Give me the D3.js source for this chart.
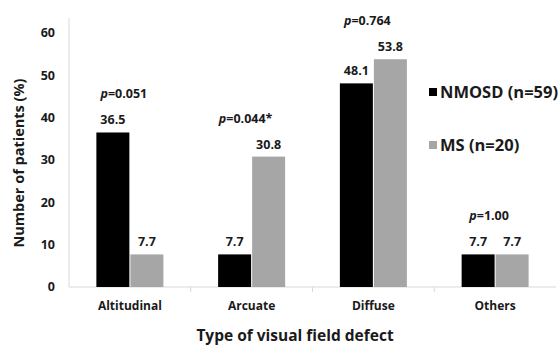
<!DOCTYPE html>
<html>
<head>
<meta charset="utf-8">
<style>
  body { margin: 0; background: #fff; }
  text { font-family: "Open Sans", sans-serif; font-weight: bold; fill: #1a1a1a; }
</style>
</head>
<body>
<div id="chart"></div>
<script src="https://d3js.org/d3.v7.min.js"></script>
<script>
var categories = ["Altitudinal", "Arcuate", "Diffuse", "Others"];
var seriesNames = ["NMOSD (n=59)", "MS (n=20)"];
var nmosd = [36.5, 7.7, 48.1, 7.7];
var ms = [7.7, 30.8, 53.8, 7.7];
var pValues = ["0.051", "0.044*", "0.764", "1.00"];
var yTicks = [0, 10, 20, 30, 40, 50, 60];
var colors = ["#000000", "#a6a6a6"];

var W = 560, H = 346;
var margin = { top: 18, right: 4, bottom: 59, left: 69 };

var svg = d3.select("#chart").append("svg")
  .attr("width", W)
  .attr("height", H);

var x = d3.scaleBand()
  .domain(categories)
  .range([margin.left, W - margin.right]);

var inner = d3.scaleBand()
  .domain([0, 1])
  .range([0, 67])
  .paddingInner(0.03);

var y = d3.scaleLinear()
  .domain([0, 60])
  .range([287, 33]);

// axis lines
svg.append("line")
  .attr("x1", margin.left).attr("x2", margin.left)
  .attr("y1", margin.top).attr("y2", y(0))
  .attr("stroke", "#d9d9d9");
svg.append("line")
  .attr("x1", margin.left).attr("x2", W - margin.right)
  .attr("y1", y(0)).attr("y2", y(0))
  .attr("stroke", "#d9d9d9");

// category separators
svg.selectAll(".sep")
  .data(categories.slice(1))
  .enter().append("line")
  .attr("x1", function(d) { return x(d); })
  .attr("x2", function(d) { return x(d); })
  .attr("y1", y(0)).attr("y2", y(0) + 5)
  .attr("stroke", "#d9d9d9");

// y tick labels
svg.selectAll(".ytick")
  .data(yTicks)
  .enter().append("text")
  .attr("x", 55)
  .attr("y", function(d) { return y(d); })
  .attr("dy", "0.35em")
  .attr("text-anchor", "end")
  .style("font-size", "12.5px")
  .text(function(d) { return d; });

// bars
var series = [nmosd, ms];
var rows = [];
categories.forEach(function(c, i) {
  series.forEach(function(s, k) {
    rows.push({ cat: c, k: k, v: s[i] });
  });
});

var off = (x.bandwidth() - 67) / 2;

svg.selectAll(".bar")
  .data(rows)
  .enter().append("rect")
  .attr("x", function(d) { return x(d.cat) + off + inner(d.k); })
  .attr("y", function(d) { return y(d.v); })
  .attr("width", inner.bandwidth())
  .attr("height", function(d) { return y(0) - y(d.v); })
  .attr("fill", function(d) { return colors[d.k]; });

// value labels
svg.selectAll(".val")
  .data(rows)
  .enter().append("text")
  .attr("x", function(d) { return x(d.cat) + off + inner(d.k) + inner.bandwidth() / 2; })
  .attr("y", function(d) { return y(d.v) - 8; })
  .attr("text-anchor", "middle")
  .style("font-size", "12.5px")
  .text(function(d) { return d.v.toFixed(1); });

// p-values
var pt = svg.selectAll(".p")
  .data(categories)
  .enter().append("text")
  .attr("x", function(d) { return x(d) + x.bandwidth() / 2 - 6; })
  .attr("y", function(d, i) { return y(Math.max(nmosd[i], ms[i])) - 34; })
  .attr("text-anchor", "middle")
  .style("font-size", "12.5px");
pt.append("tspan").style("font-style", "italic").text("p");
pt.append("tspan").text(function(d, i) { return "=" + pValues[i]; });

// legend
var leg = svg.selectAll(".leg")
  .data(seriesNames)
  .enter().append("g")
  .attr("transform", function(d, i) { return "translate(429," + (92 + i * 53) + ")"; });
leg.append("rect")
  .attr("x", 0).attr("y", -4)
  .attr("width", 8).attr("height", 8)
  .attr("fill", function(d, i) { return colors[i]; });
leg.append("text")
  .attr("x", 11)
  .attr("dy", "0.35em")
  .style("font-size", "16.5px")
  .text(function(d) { return d; });

// category labels
svg.selectAll(".cat")
  .data(categories)
  .enter().append("text")
  .attr("x", function(d) { return x(d) + x.bandwidth() / 2; })
  .attr("y", 306)
  .attr("dy", "0.35em")
  .attr("text-anchor", "middle")
  .style("font-size", "12px")
  .text(function(d) { return d; });

// axis titles
svg.append("text")
  .attr("x", 295)
  .attr("y", 336)
  .attr("dy", "0.35em")
  .attr("text-anchor", "middle")
  .style("font-size", "15.5px")
  .text("Type of visual field defect");

svg.append("text")
  .attr("transform", "translate(19,163) rotate(-90)")
  .attr("dy", "0.35em")
  .attr("text-anchor", "middle")
  .style("font-size", "14.5px")
  .text("Number of patients (%)");
</script>
</body>
</html>
